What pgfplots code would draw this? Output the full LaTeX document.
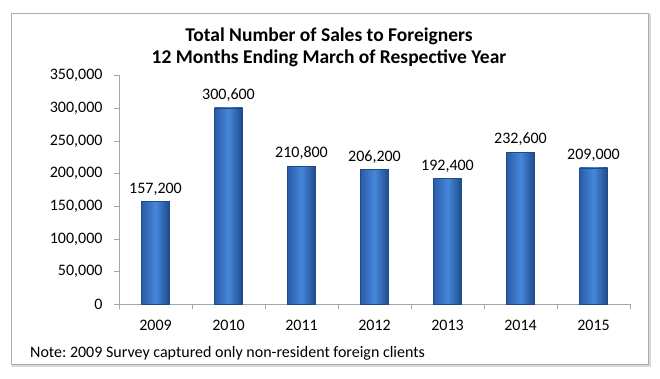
\documentclass[border=0pt]{standalone}
\usepackage{pgfplots}
\pgfplotsset{compat=1.18}
\usepackage{fontspec}
\setmainfont{Carlito}
\frenchspacing
\definecolor{barleft}{HTML}{2A5CA8}
\definecolor{barright}{HTML}{1E4A8A}
\definecolor{barlight}{HTML}{4687DA}
\definecolor{axgray}{HTML}{A6A6A6}
\begin{document}
\begin{tikzpicture}[x=1pt,y=1pt]
\path[fill=white] (0,0) rectangle (660,379);
\draw[gray!30, line width=2.5pt] (13,13) rectangle (650,364);
\draw[gray!65, line width=0.8pt, fill=white] (11,15) rectangle (648,366);
\node[anchor=base, font=\bfseries\fontsize{19.5}{22}\selectfont] at (329,337.3) {Total Number of Sales to Foreigners};
\node[anchor=base, font=\bfseries\fontsize{19.5}{22}\selectfont] at (329,315) {12 Months Ending March of Respective Year};
\node[anchor=base west, inner sep=0pt, font=\fontsize{16}{19}\selectfont] at (30,21.3) {Note: 2009 Survey captured only non-resident foreign clients};
\coordinate (AX) at (119,74.5);
\begin{axis}[
  at={(AX)}, anchor=south west,
  scale only axis, width=511pt, height=229pt,
  xmin=-0.5, xmax=6.5, ymin=0, ymax=350000,
  axis x line*=bottom, axis y line*=left,
  axis line style={axgray, line width=0.8pt},
  xtick={0,...,6}, xticklabels={2009,2010,2011,2012,2013,2014,2015},
  minor xtick={-0.5,0.5,...,6.5},
  major x tick style={draw=none},
  minor x tick style={axgray, line width=0.8pt},
  minor tick length=5pt,
  ytick={0,50000,...,350000},
  y tick style={axgray, line width=0.8pt},
  major tick length=5pt,
  tick align=outside,
  scaled y ticks=false,
  /pgf/number format/.cd, fixed, 1000 sep={,}, assume math mode=true,
  /pgfplots/.cd,
  yticklabel style={font=\fontsize{16}{19}\selectfont, xshift=-8pt},
  xticklabel style={font=\fontsize{16}{19}\selectfont, yshift=-7pt},
  mybar/.style={ybar, bar width=28pt, bar shift=0pt, draw=barright, line width=0.4pt,
     left color=barleft, right color=barright, middle color=barlight, mark=none},
  nodes near coords,
  nodes near coords style={font=\fontsize{16}{19}\selectfont, text=black, /pgf/number format/fixed, /pgf/number format/1000 sep={,}, /pgf/number format/assume math mode=true, yshift=3pt},
  clip=false,
]
\addplot[mybar] coordinates {(0,157200)};
\addplot[mybar] coordinates {(1,300600)};
\addplot[mybar] coordinates {(2,210800)};
\addplot[mybar] coordinates {(3,206200)};
\addplot[mybar] coordinates {(4,192400)};
\addplot[mybar] coordinates {(5,232600)};
\addplot[mybar] coordinates {(6,209000)};
\end{axis}
\end{tikzpicture}
\end{document}
